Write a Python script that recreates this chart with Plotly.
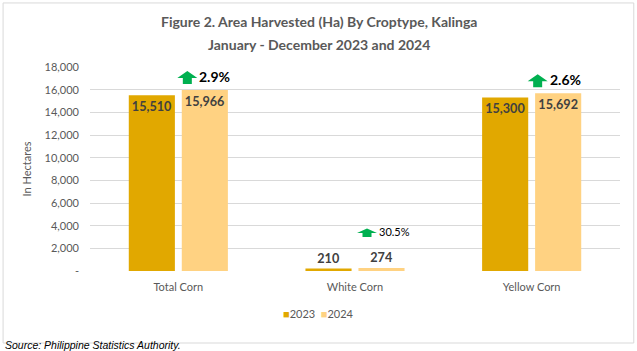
import plotly.graph_objects as go

categories = ["Total Corn", "White Corn", "Yellow Corn"]
years = ["2023", "2024"]
values_2023 = [15510, 210, 15300]
values_2024 = [15966, 274, 15692]
y_ticks = list(range(0, 18001, 2000))
y_ticktext = ["-"] + [f"{v:,}" for v in y_ticks[1:]]
title_lines = ["Figure 2. Area Harvested (Ha) By Croptype, Kalinga",
               "January - December 2023 and 2024"]

pct = [(b - a) / a * 100 for a, b in zip(values_2023, values_2024)]

FONT = "Lato"
GREY = "#595959"
fig = go.Figure()
colors = ["#E1A800", "#FFD282"]
for yr, vals, col in zip(years, [values_2023, values_2024], colors):
    fig.add_trace(go.Bar(
        name=yr, x=categories, y=vals, marker_color=col, marker_line_width=0,
        text=[f"{v:,}" for v in vals],
        textposition=["inside" if v > 2000 else "outside" for v in vals],
        insidetextanchor="end",
        textangle=0,
        textfont=dict(family=FONT, size=13, color="#404040", weight="bold"),
        cliponaxis=False,
        showlegend=False,
    ))

# arrow + pct annotations (pixel offsets are style)
arrow_dx = [9, 12, 6]
arrow_dy = [6, 31, 6]
arrow_scale = [1.0, 0.65, 1.0]
text_size = [14, 11, 14]
text_bold = ["bold", "normal", "bold"]
for i, c in enumerate(categories):
    dx, dy, s = arrow_dx[i], arrow_dy[i], arrow_scale[i]
    hw, sw, sh, hh = 10, 4.5, 6 * s, 7 * s
    path = (f"M {dx - sw},{dy} L {dx + sw},{dy} L {dx + sw},{dy + sh} "
            f"L {dx + hw},{dy + sh} L {dx},{dy + sh + hh} L {dx - hw},{dy + sh} "
            f"L {dx - sw},{dy + sh} Z")
    fig.add_shape(type="path", xref="x", yref="y", xsizemode="pixel", ysizemode="pixel",
                  xanchor=c, yanchor=values_2024[i], path=path,
                  fillcolor="#00B050", line_width=0, layer="above")
    fig.add_annotation(x=c, y=values_2024[i], xref="x", yref="y",
                       text=f"{pct[i]:.1f}%", showarrow=False,
                       xanchor="left", yanchor="bottom",
                       xshift=dx + 10, yshift=dy - 3,
                       font=dict(family=FONT, size=text_size[i], color="#000000",
                                 weight=text_bold[i]))

# chart border
fig.add_shape(type="rect", xref="paper", yref="paper",
              x0=-0.164, x1=1.026, y0=-0.353, y1=1.314,
              line=dict(color="#D9D9D9", width=1), fillcolor="rgba(0,0,0,0)", layer="above")

# title lines
for txt, yy in zip(title_lines, [1.221, 1.108]):
    fig.add_annotation(xref="paper", yref="paper", x=(318.5 - 90) / 530, y=yy,
                       xanchor="center", yanchor="middle", text=f"<b>{txt}</b>",
                       showarrow=False, font=dict(family=FONT, size=14, color=GREY))

# legend (manual)
fig.add_annotation(xref="paper", yref="paper", x=(318.5 - 90) / 530, y=-0.206,
                   xanchor="center", yanchor="middle", showarrow=False,
                   text=" ".join(f"<span style='color:{c}'>■</span>{y} " for y, c in zip(years, colors)).strip(),
                   font=dict(family=FONT, size=11, color=GREY))

fig.add_annotation(xref="paper", yref="paper", x=-0.164, y=-0.325, xanchor="left", yanchor="top",
                   text="<i>Source: Philippine Statistics Authority.</i>", showarrow=False,
                   font=dict(family="Liberation Sans", size=10.5, color="#000000"))

fig.update_layout(
    width=637, height=351,
    margin=dict(l=90, r=17, t=67, b=80, autoexpand=False),
    paper_bgcolor="white", plot_bgcolor="white",
    barmode="group", bargap=0.4, bargroupgap=0.13,
    showlegend=False,
    xaxis=dict(showline=False, ticks="", tickangle=0, ticklabelstandoff=8,
               tickfont=dict(family=FONT, size=11, color=GREY)),
    yaxis=dict(range=[0, 18000], tickvals=y_ticks, ticktext=y_ticktext,
               gridcolor="#D9D9D9", gridwidth=1, zeroline=False, showline=False,
               ticklabelstandoff=10,
               tickfont=dict(family=FONT, size=11, color=GREY),
               title=dict(text="In Hectares", font=dict(family=FONT, size=11, color=GREY),
                          standoff=10)),
    uniformtext=dict(minsize=8, mode="show"),
)

fig.write_html("out.html")
